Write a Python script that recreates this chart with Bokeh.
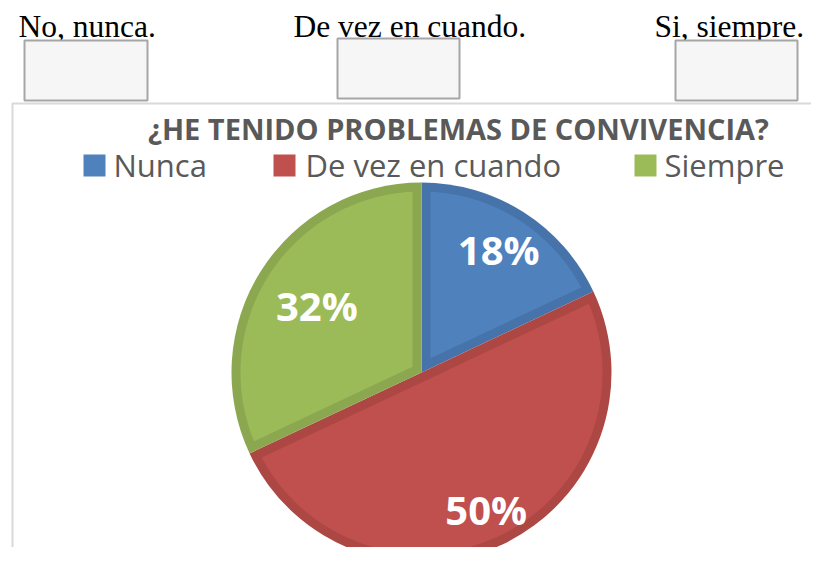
import math
import numpy as np
from bokeh.plotting import figure
from bokeh.models import Range1d
from bokeh.core.properties import value
from bokeh.embed import file_html
from bokeh.resources import INLINE

# ---- data ----
categories = ["Nunca", "De vez en cuando", "Siempre"]
percent = [18, 50, 32]
answer_options = ["No, nunca.", "De vez en cuando.", "Si, siempre."]
title_text = "¿HE TENIDO PROBLEMAS DE CONVIVENCIA?"

# ---- styles ----
fill_colors = ["#4F81BD", "#C0504D", "#9BBB59"]
edge_colors = ["#4673AA", "#AD4744", "#8BA74F"]
label_radius = [144, 152, 124]

W, H = 811, 547
PAGE_H = 563


def Y(py):
    return PAGE_H - py


p = figure(width=W, height=H, output_backend="svg", toolbar_location=None,
           x_range=Range1d(0, W), y_range=Range1d(PAGE_H - H, PAGE_H),
           min_border=0, background_fill_color="white", border_fill_color="white")
p.axis.visible = False
p.grid.visible = False
p.outline_line_color = None

# ---- top answer options and boxes ----
opt_x = [18, 293, 654]
p.text(x=opt_x, y=[Y(37)] * 3, text=answer_options, text_font=value("Liberation Serif"),
       text_font_size="31.5px", text_color="black", text_baseline="alphabetic", text_align="left",
       y_offset=-11)
p.quad(left=[24, 337, 675], right=[147, 459, 797], top=[Y(40), Y(38), Y(40)],
       bottom=[Y(100), Y(98), Y(100)], fill_color="#F6F6F6", line_color="#A6A6A6", line_width=2)

# ---- chart frame ----
p.line(x=[12, 12, 830], y=[Y(570), Y(103), Y(103)], line_color="#D9D9D9", line_width=2)

# ---- title ----
p.text(x=[458], y=[Y(138)], text=[title_text], text_font=value("Open Sans"), text_font_style="bold",
       text_font_size="29px", text_color="#595959", text_align="center", text_baseline="alphabetic",
       y_offset=-10)

# ---- legend ----
sq_x = [94, 284, 645]
txt_x = [113, 305, 664]
p.rect(x=sq_x, y=[Y(165)] * 3, width=22, height=22, fill_color=fill_colors, line_color=None)
p.text(x=txt_x, y=[Y(175)] * 3, text=categories, text_font=value("Open Sans"),
       text_font_size="31px", text_color="#595959", text_align="left", text_baseline="alphabetic",
       y_offset=-11)

# ---- pie ----
cx, cy = 421, Y(372)
R = 190
band = 9
total = sum(percent)
cum = np.cumsum([0] + percent)
starts = [math.radians(90 - cum[i + 1] / total * 360) for i in range(len(percent))]
ends = [math.radians(90 - cum[i] / total * 360) for i in range(len(percent))]

p.wedge(x=[cx] * 3, y=[cy] * 3, radius=R, start_angle=starts, end_angle=ends,
        fill_color=edge_colors, line_color=None)

xs, ys = [], []
rho = R - band
delta = math.asin(band / rho)
for lo, hi in zip(starts, ends):
    th = hi - lo
    mid = (lo + hi) / 2
    shift = band / math.sin(th / 2)
    ax, ay = cx + shift * math.cos(mid), cy + shift * math.sin(mid)
    phi = np.linspace(lo + delta, hi - delta, 120)
    xs.append([ax] + list(cx + rho * np.cos(phi)))
    ys.append([ay] + list(cy + rho * np.sin(phi)))
p.patches(xs=xs, ys=ys, fill_color=fill_colors, line_color=None)

lx, ly = [], []
for lo, hi, r in zip(starts, ends, label_radius):
    mid = (lo + hi) / 2
    lx.append(cx + r * math.cos(mid))
    ly.append(cy + r * math.sin(mid))
p.text(x=lx, y=ly, text=[f"{v}%" for v in percent], text_font=value("Open Sans"),
       text_font_style="bold", text_font_size="40px", text_color="white",
       text_align="center", text_baseline="middle", y_offset=-1)

open("out.html", "w").write(file_html(p, INLINE))
